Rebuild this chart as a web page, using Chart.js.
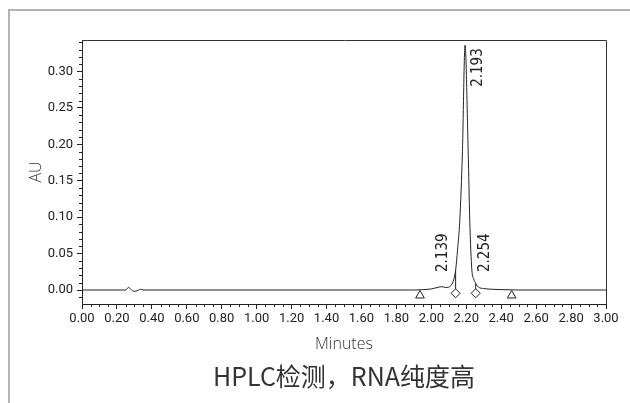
<!DOCTYPE html>
<html>
<head>
<meta charset="utf-8">
<script src="https://cdn.jsdelivr.net/npm/chart.js@4.4.1/dist/chart.umd.min.js"></script>
<style>
  html, body { margin: 0; padding: 0; background: #fff; }
  #wrap { position: relative; width: 630px; height: 403px; overflow: hidden; }
  #frame { position: absolute; left: 8px; top: 9px; width: 640px; height: 420px;
           border-top: 2px solid #b4b4b4; border-left: 2px solid #b4b4b4; }
  canvas { position: absolute; left: 0; top: 0; }
</style>
</head>
<body>
<div id="wrap">
  <div id="frame"></div>
  <canvas id="hplc-chart" width="630" height="403"></canvas>
</div>
<script>
// chromatogram trace (minutes / AU)
const traceTimes = [0.00, 0.25, 0.265, 0.28, 0.295, 0.315, 0.335, 0.35, 1.90, 1.95, 2.00, 2.04, 2.06, 2.08, 2.10, 2.115, 2.128, 2.139, 2.150, 2.163, 2.178, 2.193, 2.211, 2.220, 2.232, 2.243, 2.254, 2.270, 2.300, 2.350, 2.450, 2.500, 3.00];
const traceAU = [0, 0, 0.0035, 0.001, -0.0017, -0.0012, 0.001, 0, 0, 0.0005, 0.0015, 0.0038, 0.0046, 0.0035, 0.0040, 0.0070, 0.0140, 0.027, 0.055, 0.096, 0.190, 0.336, 0.190, 0.096, 0.0275, 0.015, 0.009, 0.004, 0.002, 0.001, 0.0003, 0, 0];

// integration marks
const boundTimes = [1.935, 2.46];
const dropTimes = [2.139, 2.254];
const dropAU = [0.027, 0.009];
const markerAU = -0.0075;
const dropMarkerAU = -0.0045;

// peak labels
const peakNames = ["2.139", "2.193", "2.254"];
const peakTimes = [2.139, 2.193, 2.254];
const peakAU = [0.027, 0.336, 0.009];

// axis ticks
const xTickStep = 0.2;
const yTickStep = 0.05;

const caption = "HPLC检测，RNA纯度高";

const tickFont = { family: "'Liberation Sans Narrow', 'Roboto', sans-serif", size: 13 };
const ink = "#222";

const toPoints = (xs, ys) => xs.map((x, i) => ({ x: x, y: ys[i] }));

const minorTicks = {
  id: "minorTicks",
  afterDraw(chart) {
    const { ctx, scales: { x, y } } = chart;
    ctx.save();
    ctx.strokeStyle = ink;
    ctx.lineWidth = 1;
    ctx.beginPath();
    for (let i = 1; i < 60; i++) {
      if (i % 4 === 0) continue;
      const px = Math.round(x.getPixelForValue(i * 0.05)) + 0.5;
      ctx.moveTo(px, x.top);
      ctx.lineTo(px, x.top + 3);
    }
    for (let i = -1; i <= 34; i++) {
      if (i % 5 === 0) continue;
      const py = Math.round(y.getPixelForValue(i * 0.01)) + 0.5;
      ctx.moveTo(y.right - 3, py);
      ctx.lineTo(y.right, py);
    }
    ctx.stroke();
    // plot box top and right
    const a = chart.chartArea;
    ctx.beginPath();
    ctx.strokeStyle = "#333";
    ctx.moveTo(a.left, Math.round(a.top) + 0.5);
    ctx.lineTo(Math.round(a.right) + 0.5, Math.round(a.top) + 0.5);
    ctx.lineTo(Math.round(a.right) + 0.5, a.bottom);
    ctx.stroke();
    // caption under the axis title, centred on the plot
    ctx.fillStyle = "#333";
    ctx.font = "25px 'Noto Sans CJK SC', sans-serif";
    ctx.textAlign = "center";
    ctx.textBaseline = "middle";
    ctx.fillText(caption, (a.left + a.right) / 2, 376);
    ctx.restore();
  },
};

const peakLabelPlugin = {
  id: "peakLabels",
  afterDatasetsDraw(chart, args, opts) {
    const { ctx, scales: { x, y } } = chart;
    ctx.save();
    ctx.fillStyle = ink;
    ctx.font = "15px 'DejaVu Sans Condensed', sans-serif";
    ctx.textBaseline = "middle";
    peakNames.forEach((name, i) => {
      const s = opts.styles[i];
      const px = x.getPixelForValue(peakTimes[i]) + s.dx;
      const py = s.up ? y.getPixelForValue(0) - 18 : y.getPixelForValue(peakAU[i]) + 3;
      ctx.save();
      ctx.translate(px, py);
      ctx.rotate(-Math.PI / 2);
      ctx.textAlign = s.up ? "left" : "right";
      ctx.fillText(name, 0, 0);
      ctx.restore();
    });
    ctx.restore();
  },
};

const hplcChart = new Chart(document.querySelector("#hplc-chart"), {
  type: "scatter",
  data: {
    datasets: [
      {
        data: toPoints(boundTimes, boundTimes.map(() => markerAU)),
        pointStyle: "triangle",
        pointRadius: 5,
        backgroundColor: "#fff",
        borderColor: ink,
        borderWidth: 1,
        order: 0,
      },
      {
        data: toPoints(dropTimes, dropTimes.map(() => dropMarkerAU)),
        pointStyle: "rectRot",
        pointRadius: 4.5,
        backgroundColor: "#fff",
        borderColor: ink,
        borderWidth: 1,
        order: 0,
      },
      {
        data: [{ x: dropTimes[0], y: 0 }, { x: dropTimes[0], y: dropAU[0] }],
        showLine: true,
        pointRadius: 0,
        borderColor: ink,
        borderWidth: 1,
        order: 1,
      },
      {
        data: [{ x: dropTimes[1], y: 0 }, { x: dropTimes[1], y: dropAU[1] }],
        showLine: true,
        pointRadius: 0,
        borderColor: ink,
        borderWidth: 1,
        order: 1,
      },
      {
        data: toPoints(traceTimes, traceAU),
        showLine: true,
        pointRadius: 0,
        borderColor: ink,
        borderWidth: 1,
        cubicInterpolationMode: "monotone",
        order: 2,
      },
    ],
  },
  options: {
    responsive: false,
    animation: false,
    events: [],
    layout: { padding: { left: 0, top: 40, right: 24, bottom: 39.4 } },
    scales: {
      x: {
        type: "linear",
        min: 0,
        max: 3,
        afterFit: (scale) => { scale.height = 59.6; },
        ticks: {
          stepSize: xTickStep,
          autoSkip: false,
          maxRotation: 0,
          padding: 2,
          color: ink,
          font: tickFont,
          callback: (v) => v.toFixed(2),
        },
        grid: { drawOnChartArea: false, tickLength: 5, color: ink, tickColor: ink },
        border: { color: ink, width: 1 },
        title: {
          display: true,
          text: "Minutes",
          color: "#333",
          font: { family: "'Open Sans', sans-serif", size: 16, weight: "300" },
          padding: { top: 0, bottom: 10 },
        },
      },
      y: {
        min: -0.0192,
        max: 0.3432,
        afterFit: (scale) => { scale.width = 82; },
        ticks: {
          stepSize: yTickStep,
          includeBounds: false,
          padding: 4,
          color: ink,
          font: tickFont,
          callback: (v) => v.toFixed(2),
        },
        grid: { drawOnChartArea: false, tickLength: 5, color: ink, tickColor: ink },
        border: { color: ink, width: 1 },
        title: {
          display: true,
          text: "AU",
          color: "#333",
          font: { family: "'Open Sans', sans-serif", size: 16, weight: "300" },
          padding: { top: 27, bottom: 0 },
        },
      },
    },
    plugins: {
      legend: { display: false },
      tooltip: { enabled: false },
      title: { display: false },
      peakLabels: {
        styles: [
          { dx: -13, up: true },
          { dx: 13, up: false },
          { dx: 9, up: true },
        ],
      },
    },
  },
  plugins: [minorTicks, peakLabelPlugin],
});
</script>
</body>
</html>
